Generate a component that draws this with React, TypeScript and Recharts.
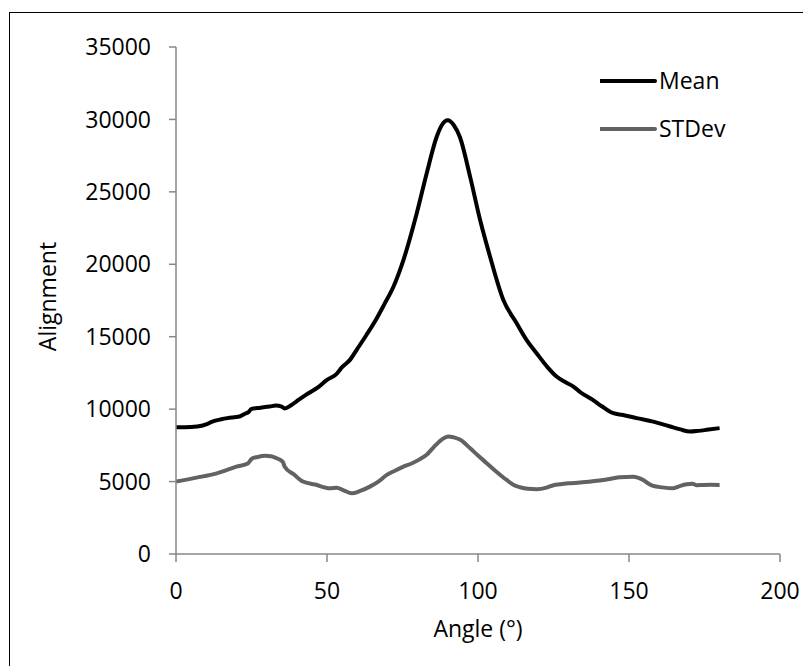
import React from 'react';
import { LineChart, Line, XAxis, YAxis, Legend } from 'recharts';

const meanAngles = [0, 3, 7, 10, 12, 15, 17, 21, 23, 24, 25, 28, 31, 33, 35, 36, 38, 40, 43, 47, 50, 53, 55, 57.6, 60, 63, 66, 69, 72, 75.3, 79.7, 83, 86.3, 88, 90, 92, 94, 97.4, 100.7, 104, 108.4, 112.8, 116, 119.4, 123, 126, 129, 131.6, 134, 138, 141, 144.8, 148, 152.5, 158, 163.6, 167, 170.2, 173, 175.7, 180];
const meanValues = [8750, 8750, 8800, 8950, 9140, 9300, 9380, 9490, 9700, 9790, 10020, 10100, 10180, 10250, 10180, 10050, 10250, 10550, 10990, 11500, 12020, 12400, 12900, 13400, 14150, 15100, 16100, 17250, 18450, 20290, 23510, 26270, 28790, 29600, 29940, 29600, 28790, 26035, 23050, 20520, 17535, 15930, 14800, 13860, 12900, 12250, 11850, 11560, 11150, 10640, 10200, 9720, 9600, 9380, 9140, 8800, 8600, 8450, 8500, 8570, 8690];

const sdAngles = [0, 6.8, 13.5, 20, 23.9, 25, 27, 29.5, 31.5, 33.3, 35.3, 36, 39, 42, 46, 51, 53.2, 55.5, 58.2, 61, 64.2, 67, 69.8, 72.5, 75.3, 78, 80.8, 83, 85.2, 88, 90.2, 92, 94, 97.4, 100, 102.9, 106, 109.5, 112, 113.9, 116.5, 119.4, 122.7, 125, 127.2, 130, 133.8, 138, 141.5, 144, 147, 151.4, 154.7, 156.5, 158, 161, 164.7, 167, 169.1, 171, 172.5, 174.6, 177, 180];
const sdValues = [5000, 5270, 5570, 6030, 6270, 6560, 6700, 6790, 6750, 6610, 6380, 6030, 5500, 5000, 4800, 4540, 4580, 4400, 4190, 4350, 4650, 5000, 5460, 5750, 6030, 6250, 6550, 6850, 7350, 7900, 8120, 8050, 7900, 7300, 6800, 6270, 5700, 5110, 4750, 4610, 4500, 4470, 4580, 4750, 4810, 4880, 4930, 5020, 5110, 5200, 5300, 5340, 5110, 4850, 4700, 4600, 4540, 4700, 4810, 4850, 4750, 4770, 4780, 4770];

const xTicks = [0, 50, 100, 150, 200];
const yTicks = [0, 5000, 10000, 15000, 20000, 25000, 30000, 35000];

const meanData = meanAngles.map((a, i) => ({ angle: a, value: meanValues[i] }));
const sdData = sdAngles.map((a, i) => ({ angle: a, value: sdValues[i] }));

const FONT = "'Open Sans', sans-serif";
const AXIS = '#878787';
const MEAN_COLOR = '#000000';
const SD_COLOR = '#626262';

const renderLegend = () => (
  <svg width={150} height={90} style={{ display: 'block' }}>
    <line x1={0} y1={21} x2={55} y2={21} stroke={MEAN_COLOR} strokeWidth={4} strokeLinecap="round" />
    <text x={59} y={21} dy="0.357em" fontSize={23} fontFamily={FONT} fill="#000">Mean</text>
    <line x1={0} y1={69} x2={55} y2={69} stroke={SD_COLOR} strokeWidth={4} strokeLinecap="round" />
    <text x={59} y={69} dy="0.357em" fontSize={23} fontFamily={FONT} fill="#000">STDev</text>
  </svg>
);

export default function App() {
  return (
    <div style={{ position: 'absolute', left: 0, top: 0, width: 803, height: 666, overflow: 'hidden', background: '#fff' }}>
      <div style={{ position: 'absolute', left: 9, top: 12, width: 900, height: 800, border: '1.5px solid #000', boxSizing: 'border-box' }} />
      <div style={{ position: 'absolute', left: 0, top: 0 }}>
        <LineChart width={803} height={666} margin={{ top: 47, right: 23, left: 0, bottom: 0 }}>
          <XAxis
            dataKey="angle"
            type="number"
            domain={[0, 200]}
            ticks={xTicks}
            allowDataOverflow
            stroke={AXIS}
            strokeWidth={1.5}
            tickSize={8}
            tickMargin={21}
            height={112}
            tick={{ fill: '#000', fontSize: 23, fontFamily: FONT }}
            label={{ value: 'Angle (°)', position: 'insideBottom', offset: 29, fill: '#000', fontSize: 23, fontFamily: FONT }}
          />
          <YAxis
            type="number"
            domain={[0, 35000]}
            ticks={yTicks}
            interval={0}
            stroke={AXIS}
            strokeWidth={1.5}
            tickSize={7}
            tickMargin={18}
            width={176}
            tick={{ fill: '#000', fontSize: 23, fontFamily: FONT }}
            label={{ value: 'Alignment', angle: -90, position: 'insideLeft', offset: 48, dy: -4, fill: '#000', fontSize: 23, fontFamily: FONT, style: { textAnchor: 'middle' } }}
          />
          <Legend
            layout="horizontal"
            verticalAlign="middle"
            align="center"
            content={renderLegend}
            wrapperStyle={{ position: 'absolute', left: 600, top: 60, width: 150, height: 90 }}
          />
          <Line data={meanData} dataKey="value" name="Mean" type="monotone" stroke={MEAN_COLOR} strokeWidth={4} dot={false} activeDot={false} isAnimationActive={false} strokeLinejoin="round" />
          <Line data={sdData} dataKey="value" name="STDev" type="monotone" stroke={SD_COLOR} strokeWidth={4} dot={false} activeDot={false} isAnimationActive={false} strokeLinejoin="round" />
        </LineChart>
      </div>
    </div>
  );
}
